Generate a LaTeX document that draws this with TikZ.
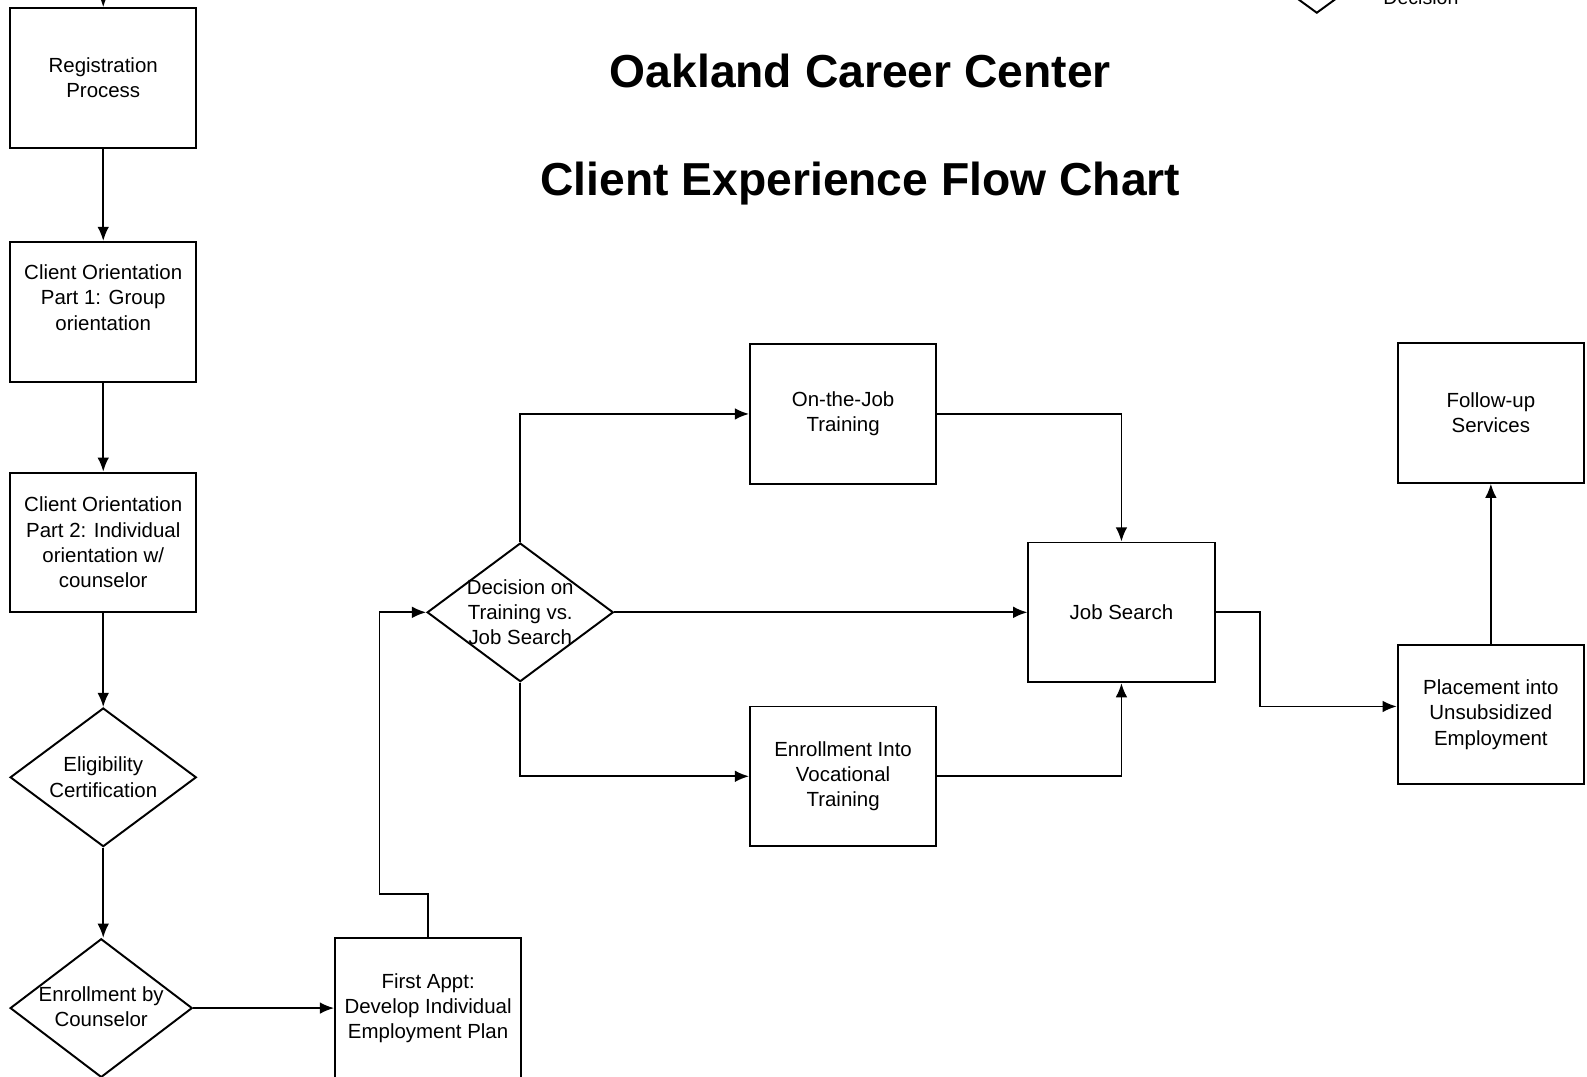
\documentclass[tikz,border=0pt]{standalone}
\usepackage{fontspec}
\setmainfont{Liberation Sans}
\usetikzlibrary{arrows.meta,shapes.geometric,positioning}

\begin{document}
\begin{tikzpicture}[x=0.02cm,y=-0.02cm,->,>={Latex[length=2.8mm,width=2.3mm]},
                    line width=1pt,font=\fontsize{11.5}{14.2}\selectfont]
  \tikzstyle{stepbox}=[rectangle,draw,line width=1.1pt,minimum width=3.68cm,
                       minimum height=2.76cm,align=center]
  \tikzstyle{decision}=[diamond,draw,line width=1.1pt,minimum width=3.68cm,
                        minimum height=2.74cm,inner sep=0pt]
  \tikzstyle{caption}=[align=center,inner sep=0pt]
  \tikzstyle{headline}=[font=\fontsize{26}{30}\selectfont\bfseries]

  \path[use as bounding box] (0,0) rectangle (1568,1064);

  % titles
  \node[headline] (title1) at (850,70)  {Oakland Career Center};
  \node[headline] (title2) at (850,181) {Client Experience Flow Chart};

  % legend (cut off at the top)
  \node[decision,minimum width=1.2cm,minimum height=0.88cm] (legdec) at (1301,-9) {};
  \node[anchor=base west,inner sep=0pt,font=\fontsize{11}{13}\selectfont] (legtxt) at (1366,4) {Decision};

  % left column
  \node[stepbox] (reg)   at (102,77)  {Registration\\Process};
  \node[stepbox,label={[caption,yshift=0.28cm]center:{Client Orientation\\Part 1: Group\\orientation}}] (part1) at (102,308) {};
  \node[stepbox] (part2) at (102,536) {Client Orientation\\Part 2: Individual\\orientation w/\\counselor};
  \node[decision,label={[caption]center:{Eligibility\\Certification}}] (elig) at (102,768) {};
  \node[decision,minimum width=3.6cm,label={[caption,yshift=0.03cm]center:{Enrollment by\\Counselor}}] (enrol) at (100,996) {};
  \node[stepbox] (appt)  at (423,996) {First Appt:\\Develop Individual\\Employment Plan};

  % middle
  \node[decision,label={[caption]center:{Decision on\\Training vs.\\Job Search}}] (dec) at (514,605) {};
  \node[stepbox] (ojt)   at (833,409) {On-the-Job\\Training};
  \node[stepbox] (voc)   at (833,767) {Enrollment Into\\Vocational\\Training};
  \node[stepbox] (job)   at (1108,605) {Job Search};

  % right
  \node[stepbox] (place)  at (1473,706) {Placement into\\Unsubsidized\\Employment};
  \node[stepbox] (follow) at (1473,408) {Follow-up\\Services};

  \coordinate (start) at (102,-20);
  \coordinate (bendA) at (375,883);
  \coordinate (bendB) at (1245,605);

  \draw (start) -- (reg.north);
  \path (reg)   edge (part1)
        (part1) edge (part2)
        (part2) edge (elig)
        (enrol) edge (appt)
        (dec)   edge (job)
        (place) edge (follow);
  \draw (elig.south) -- (elig.south |- enrol.north);
  \draw (appt.north) |- (bendA) |- (dec.west);
  \draw (dec.north) |- (ojt.west);
  \draw (dec.south) |- (voc.west);
  \draw (ojt.east) -| (job.north);
  \draw (voc.east) -| (job.south);
  \draw (job.east) -- (bendB) |- ([yshift=0.16cm]place.west);
\end{tikzpicture}
\end{document}
